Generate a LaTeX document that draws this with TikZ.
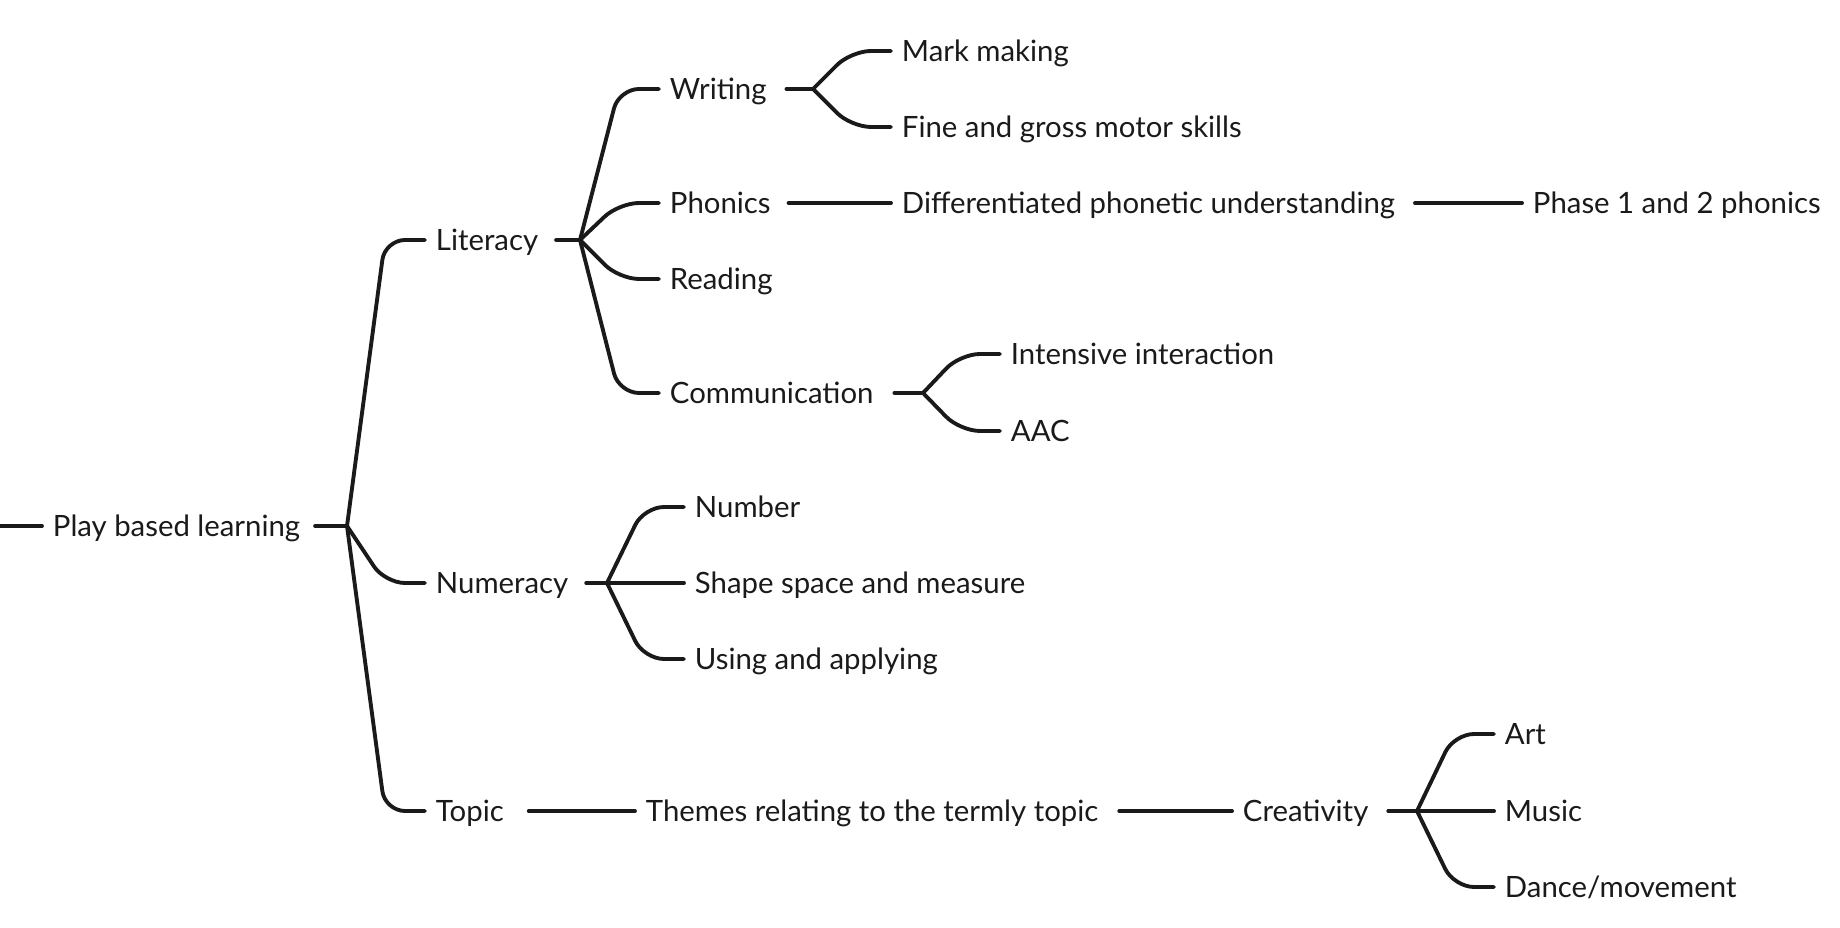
\documentclass[tikz,border=0pt]{standalone}
\usepackage{fontspec}
\setmainfont{Lato}
\usepackage{xcolor}
\usepackage{tikz}
\definecolor{ink}{HTML}{1A1A1A}

\begin{document}
\begin{tikzpicture}[color=ink, line width=1.1pt, line cap=round]
\tikzstyle{every node} = [anchor=west, inner xsep=0.09cm, inner ysep=0, text height=0.84em, text depth=0.22em, font=\fontsize{8.35}{10}\selectfont]
\tikzstyle{branch} = [rounded corners=0.2cm]
\useasboundingbox (0,0) rectangle (18.4,9.27);
% root
\coordinate (in) at (0,4.01);
\node (pbl) at (0.42,4.01) {Play based learning};
\coordinate (b0) at (3.47,4.01);
% first level
\node (lit) at (4.25,6.87) {Literacy};
\node (num) at (4.25,3.44) {Numeracy};
\node (top) at (4.25,1.16) {Topic};
% literacy
\coordinate (bl) at (5.80,6.87);
\node (wr) at (6.59,8.38) {Writing};
\node (ph) at (6.59,7.24) {Phonics};
\node (rd) at (6.59,6.48) {Reading};
\node (cm) at (6.59,5.34) {Communication};
\coordinate (bw) at (8.13,8.38);
\node (mm) at (8.91,8.76) {Mark making};
\node (fg) at (8.91,8.00) {Fine and gross motor skills};
\node (dpu) at (8.91,7.24) {Differentiated phonetic understanding};
\node (p12) at (15.22,7.24) {Phase 1 and 2 phonics};
\coordinate (bc) at (9.23,5.34);
\node (ii) at (10.00,5.73) {Intensive interaction};
\node (aac) at (10.00,4.96) {AAC};
% numeracy
\coordinate (bn) at (6.07,3.44);
\node (nb) at (6.84,4.20) {Number};
\node (ssm) at (6.84,3.44) {Shape space and measure};
\node (uap) at (6.84,2.68) {Using and applying};
% topic
\node (thm) at (6.35,1.16) {Themes relating to the termly topic};
\node (cre) at (12.32,1.16) {Creativity};
\coordinate (bcr) at (14.17,1.16);
\node (art) at (14.94,1.93) {Art};
\node (mus) at (14.94,1.16) {Music};
\node (dan) at (14.94,0.40) {Dance/movement};
\tikzstyle{every node} = []
% connectors
\draw (in) -- (pbl.west);
\draw ([xshift=0.04cm]pbl.east) -- (b0);
\draw[branch] (b0) -- ([xshift=-0.4cm]lit.west) -- (lit.west);
\draw[branch] (b0) -- ([xshift=-0.4cm]num.west) -- (num.west);
\draw[branch] (b0) -- ([xshift=-0.4cm]top.west) -- (top.west);
\draw ([xshift=0.07cm]lit.east) -- (bl);
\draw[branch] (bl) -- ([xshift=-0.4cm]wr.west) -- (wr.west);
\draw[branch] (bl) -- ([xshift=-0.4cm]ph.west) -- (ph.west);
\draw[branch] (bl) -- ([xshift=-0.4cm]rd.west) -- (rd.west);
\draw[branch] (bl) -- ([xshift=-0.4cm]cm.west) -- (cm.west);
\draw ([xshift=0.09cm]wr.east) -- (bw);
\draw[branch] (bw) -- ([xshift=-0.4cm]mm.west) -- (mm.west);
\draw[branch] (bw) -- ([xshift=-0.4cm]fg.west) -- (fg.west);
\draw ([xshift=0.07cm]ph.east) -- (dpu.west);
\draw ([xshift=0.09cm]dpu.east) -- (p12.west);
\draw ([xshift=0.1cm]cm.east) -- (bc);
\draw[branch] (bc) -- ([xshift=-0.4cm]ii.west) -- (ii.west);
\draw[branch] (bc) -- ([xshift=-0.4cm]aac.west) -- (aac.west);
\draw ([xshift=0.07cm]num.east) -- (bn);
\draw[branch] (bn) -- ([xshift=-0.4cm]nb.west) -- (nb.west);
\draw (bn) -- (ssm.west);
\draw[branch] (bn) -- ([xshift=-0.4cm]uap.west) -- (uap.west);
\draw ([xshift=0.14cm]top.east) -- (thm.west);
\draw ([xshift=0.1cm]thm.east) -- (cre.west);
\draw ([xshift=0.09cm]cre.east) -- (bcr);
\draw[branch] (bcr) -- ([xshift=-0.4cm]art.west) -- (art.west);
\draw (bcr) -- (mus.west);
\draw[branch] (bcr) -- ([xshift=-0.4cm]dan.west) -- (dan.west);
\end{tikzpicture}
\end{document}
